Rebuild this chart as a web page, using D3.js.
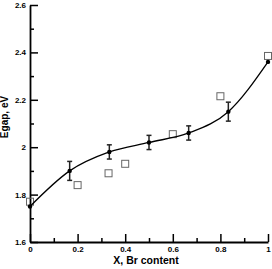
<!DOCTYPE html>
<html><head><meta charset="utf-8">
<script src="https://cdn.jsdelivr.net/npm/d3@7"></script>
<style>body{margin:0;background:#fff}svg{display:block}</style>
</head><body>
<script>
const xFit = [0, 1/6, 1/3, 0.5, 2/3, 5/6, 1];
const yFit = [1.75, 1.90, 1.98, 2.02, 2.06, 2.15, 2.36];
const errFit = [0, 0.04, 0.03, 0.03, 0.03, 0.04, 0];
const xSq = [0, 0.2, 0.33, 0.4, 0.6, 0.8, 1];
const ySq = [1.77, 1.84, 1.89, 1.93, 2.055, 2.215, 2.385];
const xTicks = [0, 0.2, 0.4, 0.6, 0.8, 1];
const yTicks = [1.6, 1.8, 2, 2.2, 2.4, 2.6];
const xMinor = [0.1, 0.3, 0.5, 0.7, 0.9];
const yMinor = [1.7, 1.9, 2.1, 2.3, 2.5];

const W = 272, H = 269;
const svg = d3.select("body").append("svg").attr("width", W).attr("height", H);
const x = d3.scaleLinear().domain([0, 1]).range([30, 268]);
const y = d3.scaleLinear().domain([1.6, 2.6]).range([242, 5]);

const fmt = d => d3.format("~g")(d);
const font = "Arial, 'Liberation Sans', sans-serif";

// axes
const gx = svg.append("g").attr("transform", `translate(0,${y(1.6)})`)
  .call(d3.axisBottom(x).tickValues(xTicks).tickFormat(fmt).tickSizeInner(-8).tickSizeOuter(0).tickPadding(4));
gx.append("g").call(d3.axisBottom(x).tickValues(xMinor).tickFormat("").tickSizeInner(-4).tickSizeOuter(0))
  .select(".domain").remove();
const gy = svg.append("g").attr("transform", `translate(${x(0)},0)`)
  .call(d3.axisLeft(y).tickValues(yTicks).tickFormat(fmt).tickSizeInner(-8).tickSizeOuter(0).tickPadding(4));
gy.append("g").call(d3.axisLeft(y).tickValues(yMinor).tickFormat("").tickSizeInner(-4).tickSizeOuter(0))
  .select(".domain").remove();
svg.selectAll(".domain").attr("stroke", "#000").attr("stroke-width", 1.8);
svg.selectAll(".tick line").attr("stroke", "#000").attr("stroke-width", 1.5);
svg.selectAll(".tick text").attr("font-family", font).attr("font-size", 8).attr("font-weight", "bold").attr("fill", "#000");
gx.selectAll(".tick text").attr("dy", "0.71em").attr("y", 4.5);

// titles
svg.append("text").attr("x", 146).attr("y", 264).attr("text-anchor", "middle")
  .attr("font-family", font).attr("font-size", 10.5).attr("font-weight", "bold").text("X, Br content");
svg.append("text").attr("transform", `translate(8,117) rotate(-90)`).attr("text-anchor", "middle")
  .attr("font-family", font).attr("font-size", 10).attr("font-weight", "bold").text("Egap, eV");

// open squares
svg.append("g").selectAll("rect").data(xSq).join("rect")
  .attr("x", (d, i) => x(d) - 3.5).attr("y", (d, i) => y(ySq[i]) - 3.5)
  .attr("width", 7).attr("height", 7)
  .attr("fill", "none").attr("stroke", "#666").attr("stroke-width", 1);

// fit curve
const line = d3.line().x(d => x(d[0])).y(d => y(d[1])).curve(d3.curveMonotoneX);
svg.append("path").datum(xFit.map((d, i) => [d, yFit[i]]))
  .attr("d", line).attr("fill", "none").attr("stroke", "#000").attr("stroke-width", 1.3);

// error bars
const eb = svg.append("g").attr("stroke", "#222").attr("stroke-width", 1.5);
xFit.forEach((d, i) => {
  if (!errFit[i]) return;
  const cx = x(d), y1 = y(yFit[i] + errFit[i]), y2 = y(yFit[i] - errFit[i]);
  eb.append("line").attr("x1", cx).attr("x2", cx).attr("y1", y1).attr("y2", y2);
  eb.append("line").attr("x1", cx - 2.5).attr("x2", cx + 2.5).attr("y1", y1).attr("y2", y1);
  eb.append("line").attr("x1", cx - 2.5).attr("x2", cx + 2.5).attr("y1", y2).attr("y2", y2);
});

// points
svg.append("g").selectAll("circle").data(xFit).join("circle")
  .attr("cx", d => x(d)).attr("cy", (d, i) => y(yFit[i])).attr("r", 2.2).attr("fill", "#000");
</script>
</body></html>
